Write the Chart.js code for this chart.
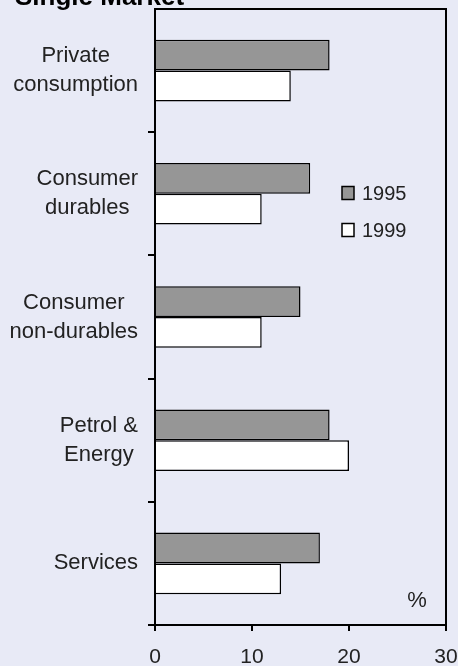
<!DOCTYPE html>
<html>
<head>
<meta charset="utf-8">
<script src="https://cdn.jsdelivr.net/npm/chart.js@4/dist/chart.umd.min.js"></script>
<style>
  html, body { margin: 0; padding: 0; background: #e8eaf6; }
  #wrap { position: relative; width: 458px; height: 666px; overflow: hidden; }
  #title { position: absolute; left: 15px; top: -17px; font: bold 26px "Liberation Sans", Arial, sans-serif; line-height: 26px; color: #000; white-space: nowrap; }
  canvas { position: absolute; left: 0; top: 0; }
</style>
</head>
<body>
<div id="wrap">
  <canvas id="chart" width="458" height="666"></canvas>
  <div id="title">Single Market</div>
</div>
<script>
const categories = [
    ["Private", "consumption"],
    ["Consumer", "durables"],
    ["Consumer", "non-durables"],
    ["Petrol &", "Energy"],
    ["Services"]
];
const seriesNames = ["1995", "1999"];
const values1995 = [18, 16, 15, 18, 17];
const values1999 = [14, 11, 11, 20, 13];
const xTicks = [0, 10, 20, 30];

const FONT = "'Liberation Sans', Arial, sans-serif";

// category labels, each one centred on its own widest line
const yLabelsPlugin = {
    id: "yLabels",
    afterDraw(chart) {
        const ctx = chart.ctx;
        const y = chart.scales.y;
        ctx.save();
        ctx.font = "22px " + FONT;
        ctx.fillStyle = "#222";
        ctx.textAlign = "center";
        ctx.textBaseline = "middle";
        categories.forEach((lines, i) => {
            const widest = Math.max(...lines.map(l => ctx.measureText(l).width));
            const cx = 138 - widest / 2;
            const cy = y.getPixelForTick(i);
            const lh = 29;
            lines.forEach((l, j) => {
                ctx.fillText(l, cx, cy + (j - (lines.length - 1) / 2) * lh);
            });
        });
        ctx.restore();
    }
};

// frame, legend and unit label
const extrasPlugin = {
    id: "extras",
    afterDraw(chart) {
        const ctx = chart.ctx;
        const a = chart.chartArea;
        ctx.save();
        ctx.strokeStyle = "#000";
        ctx.lineWidth = 2;
        ctx.beginPath();
        ctx.moveTo(a.left, a.top);
        ctx.lineTo(a.right, a.top);
        ctx.lineTo(a.right, a.bottom);
        ctx.stroke();

        ctx.font = "20px " + FONT;
        ctx.textBaseline = "middle";
        ctx.textAlign = "left";
        chart.data.datasets.forEach((ds, i) => {
            const yy = 193 + i * 37;
            ctx.fillStyle = ds.backgroundColor;
            ctx.fillRect(342, yy - 6.5, 12, 13);
            ctx.lineWidth = 1.5;
            ctx.strokeRect(342, yy - 6.5, 12, 13);
            ctx.fillStyle = "#222";
            ctx.fillText(ds.label, 362, yy + 1);
        });

        ctx.font = "22px " + FONT;
        ctx.textAlign = "center";
        ctx.fillText("%", 417, 601);
        ctx.restore();
    }
};

new Chart(document.getElementById("chart").getContext("2d"), {
    type: "bar",
    data: {
        labels: categories,
        datasets: [
            { label: seriesNames[0], data: values1995, backgroundColor: "#969696", borderColor: "#000", borderWidth: 1.5 },
            { label: seriesNames[1], data: values1999, backgroundColor: "#ffffff", borderColor: "#000", borderWidth: 1.5 }
        ]
    },
    options: {
        indexAxis: "y",
        responsive: false,
        animation: false,
        categoryPercentage: 0.5,
        barPercentage: 1.0,
        layout: { padding: { top: 9, right: 0, left: 0, bottom: 0 } },
        plugins: {
            legend: { display: false },
            tooltip: { enabled: false }
        },
        scales: {
            x: {
                min: 0,
                max: 30,
                afterBuildTicks: scale => { scale.ticks = xTicks.map(v => ({ value: v })); },
                afterFit: scale => { scale.height = 41; scale.paddingRight = 12; },
                grid: { drawOnChartArea: false, color: "#000", lineWidth: 2, tickLength: 6 },
                border: { color: "#000", width: 2 },
                ticks: { color: "#222", font: { size: 21, family: FONT }, padding: 14, maxRotation: 0 }
            },
            y: {
                afterFit: scale => { scale.width = 155; },
                grid: {
                    drawOnChartArea: false,
                    tickLength: 7,
                    lineWidth: 2,
                    color: c => c.index === 0 ? "rgba(0,0,0,0)" : "#000"
                },
                border: { color: "#000", width: 2 },
                ticks: { display: false }
            }
        }
    },
    plugins: [yLabelsPlugin, extrasPlugin]
});
</script>
</body>
</html>
